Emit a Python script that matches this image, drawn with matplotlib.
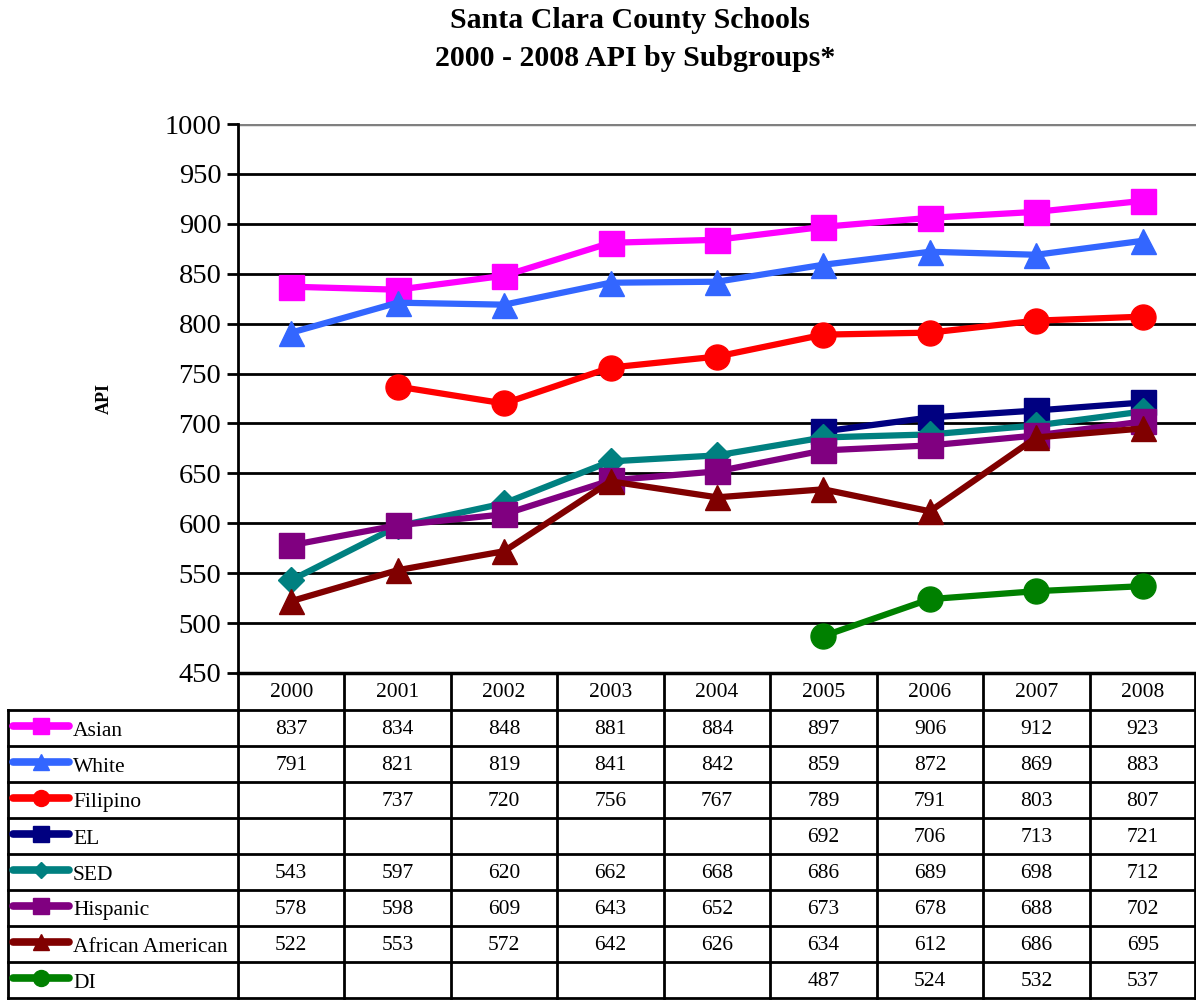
import numpy as np
import matplotlib
matplotlib.use('Agg')
import matplotlib.pyplot as plt
from matplotlib.lines import Line2D

plt.rcParams['font.family'] = ['Liberation Serif', 'DejaVu Serif']

# data
years = ['2000', '2001', '2002', '2003', '2004', '2005', '2006', '2007', '2008']
nan = np.nan
asian = [837, 834, 848, 881, 884, 897, 906, 912, 923]
white = [791, 821, 819, 841, 842, 859, 872, 869, 883]
filipino = [nan, 737, 720, 756, 767, 789, 791, 803, 807]
el = [nan, nan, nan, nan, nan, 692, 706, 713, 721]
sed = [543, 597, 620, 662, 668, 686, 689, 698, 712]
hispanic = [578, 598, 609, 643, 652, 673, 678, 688, 702]
african_american = [522, 553, 572, 642, 626, 634, 612, 686, 695]
di = [nan, nan, nan, nan, nan, 487, 524, 532, 537]

series = [
    ('Asian', asian, '#FF00FF', 's'),
    ('White', white, '#3366FF', '^'),
    ('Filipino', filipino, '#FF0000', 'o'),
    ('EL', el, '#000080', 's'),
    ('SED', sed, '#008080', 'D'),
    ('Hispanic', hispanic, '#800080', 's'),
    ('African American', african_american, '#800000', '^'),
    ('DI', di, '#008000', 'o'),
]

W, H = 1196, 1000
fig = plt.figure(figsize=(W / 100, H / 100), dpi=100)

# pixel layout
ax_l, ax_r, ax_t, ax_b = 238, 1196, 124, 673
ax = fig.add_axes([ax_l / W, 1 - ax_b / H, (ax_r - ax_l) / W, (ax_b - ax_t) / H])

x = np.arange(len(years))
for name, vals, color, mk in series:
    ax.plot(x, vals, color=color, lw=4.5, marker=mk, ms=18 if mk != 'D' else 13,
            mec=color, mfc=color, solid_capstyle='round')

ax.set_xlim(-0.5, len(years) - 0.5)
ax.set_ylim(450, 1000)
ax.set_yticks(range(450, 1001, 50))
ax.set_xticks([])
ax.tick_params(axis='y', labelsize=20.5, length=8, width=2, pad=4)
for yv in range(500, 1000, 50):
    ax.axhline(yv, color='black', lw=2, zorder=0)
ax.axhline(1000, color='#808080', lw=2.5, zorder=0)
for s in ['top', 'right']:
    ax.spines[s].set_visible(False)
ax.spines['left'].set_linewidth(2)
ax.spines['bottom'].set_linewidth(2.5)
ax.set_ylabel('API', fontsize=13, fontweight='bold', labelpad=37)

fig.text(630 / W, 1 - 21 / H, 'Santa Clara County Schools', ha='center', va='center',
         fontsize=21.5, fontweight='bold')
fig.text(635 / W, 1 - 59 / H, '2000 - 2008 API by Subgroups*', ha='center', va='center',
         fontsize=21.5, fontweight='bold')

# data table below the chart, in pixel coordinates
tab = fig.add_axes([0, 0, 1, 1], facecolor='none')
tab.set_xlim(0, W)
tab.set_ylim(H, 0)
tab.axis('off')

col_w = (ax_r - ax_l) / len(years)
head_b = 710
row_h = (998 - head_b) / len(series)
lw = 2

for k in range(len(years) + 1):
    xx = min(ax_l + k * col_w, W - 1)
    tab.add_line(Line2D([xx, xx], [ax_b, 998], color='black', lw=lw))
for i, yr in enumerate(years):
    tab.text(ax_l + (i + 0.5) * col_w, (ax_b + head_b) / 2 + 1, yr, ha='center', va='center',
             fontsize=15.5)

tab.add_line(Line2D([8, 8], [head_b, 998], color='black', lw=lw))
for r in range(len(series) + 1):
    yy = head_b + r * row_h
    tab.add_line(Line2D([8, W - 1], [yy, yy], color='black', lw=lw))

for r, (name, vals, color, mk) in enumerate(series):
    yc = head_b + (r + 0.5) * row_h
    tab.add_line(Line2D([13, 69], [yc - 2, yc - 2], color=color, lw=5.5, solid_capstyle='round'))
    tab.add_line(Line2D([41], [yc - 2], marker=mk, ms=11.5 if mk != 'D' else 8, color=color))
    tab.text(73, yc + 3, name, ha='left', va='center', fontsize=15.5)
    for i, v in enumerate(vals):
        if not np.isnan(v):
            tab.text(ax_l + (i + 0.5) * col_w, yc + 1, str(int(v)), ha='center', va='center',
                     fontsize=15.5)

plt.savefig('out.png', dpi=100, facecolor='white')
